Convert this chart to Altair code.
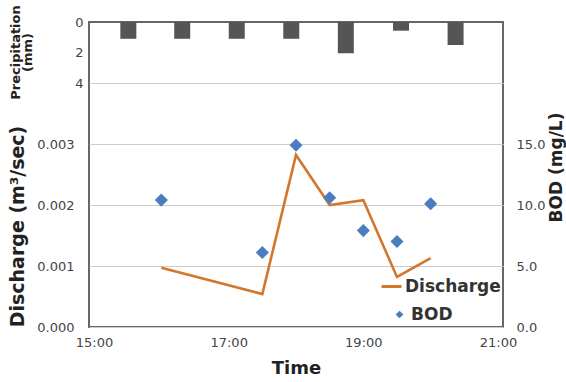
import altair as alt
import pandas as pd

# ---- data ----
times = ["16:00", "17:30", "18:00", "18:30", "19:00", "19:30", "20:00"]
discharge = [0.00097, 0.00054, 0.00282, 0.00200, 0.00208, 0.00082, 0.00113]
bod = [10.4, 6.1, 14.9, 10.6, 7.9, 7.0, 10.1]
precip_hours = [15.51, 16.31, 17.12, 17.93, 18.74, 19.56, 20.37]
precip_mm = [1.1, 1.1, 1.1, 1.1, 2.05, 0.57, 1.51]
x_ticks = [15, 17, 19, 21]
discharge_ticks = [0, 0.001, 0.002, 0.003, 0.004]
bod_ticks = [0, 5, 10, 15]
precip_ticks = [0, 2, 4]


def to_hours(t):
    h, m = t.split(":")
    return int(h) + int(m) / 60


main = pd.DataFrame({
    "hour": [to_hours(t) for t in times],
    "discharge": discharge,
    "bod": bod,
    "s1": ["Discharge"] * len(times),
    "s2": ["BOD"] * len(times),
})
rain = pd.DataFrame({"hour": precip_hours, "precip": precip_mm})

FONT = "DejaVu Sans"
LABEL = dict(labelFont=FONT, labelFontSize=13, labelColor="#444",
             titleFont=FONT, titleFontWeight="bold", titleColor="#222",
             ticks=False, tickSize=0, domain=False)

x_enc = alt.X(
    "hour:Q",
    scale=alt.Scale(domain=[15, 21], nice=False, zero=False),
    axis=alt.Axis(values=x_ticks, labelExpr="datum.value + ':00'", title="Time",
                  grid=False, labelPadding=9, labelFlush=False,
                  titleFontSize=18, titleY=41, titleBaseline="middle", **LABEL),
)

bars = alt.Chart(rain).mark_bar(size=16, color="#555555").encode(
    x=x_enc,
    y=alt.Y("precip:Q",
            scale=alt.Scale(domain=[0, 20], reverse=True, nice=False, zero=True),
            axis=alt.Axis(orient="left", values=precip_ticks, grid=False, labelPadding=6,
                          title=["Precipitation", "(mm)"], titleFontSize=13,
                          titleX=-74, titleY=30, titleAngle=-90, titleAlign="center",
                          titleBaseline="middle", titleLineHeight=12, **LABEL)),
)

line = alt.Chart(main).mark_line(strokeWidth=2.6).encode(
    x=x_enc,
    y=alt.Y("discharge:Q",
            scale=alt.Scale(domain=[0, 0.005], nice=False),
            axis=alt.Axis(orient="left", values=discharge_ticks,
                          labelExpr="datum.value > 0.0035 ? '' : format(datum.value, '.3f')",
                          grid=True, gridColor="#cccccc", gridWidth=1, labelPadding=15,
                          title="Discharge (m³/sec)", titleFontSize=19,
                          titleX=-72, titleY=204, titleAngle=-90, titleAlign="center",
                          titleBaseline="middle", **LABEL)),
    stroke=alt.Stroke("s1:N", scale=alt.Scale(domain=["Discharge"], range=["#D2772E"]),
                      legend=alt.Legend(title=None, orient="none", legendX=291, legendY=253,
                                        symbolType="stroke", symbolSize=400, symbolStrokeWidth=3,
                                        labelFont=FONT, labelFontSize=17, labelFontWeight="bold",
                                        labelColor="#333", labelOffset=2, padding=0)),
)

points = alt.Chart(main).mark_point(shape="diamond", filled=True, size=170, opacity=1).encode(
    x=x_enc,
    y=alt.Y("bod:Q",
            scale=alt.Scale(domain=[0, 25], nice=False),
            axis=alt.Axis(orient="right", values=bod_ticks, format=".1f", grid=False,
                          labelPadding=13, title="BOD (mg/L)", titleFontSize=17,
                          titleX=53, titleY=145, titleAngle=-90, titleAlign="center",
                          titleBaseline="middle", **LABEL)),
    fill=alt.Fill("s2:N", scale=alt.Scale(domain=["BOD"], range=["#4A7DBE"]),
                  legend=alt.Legend(title=None, orient="none", legendX=302, legendY=284,
                                    symbolType="diamond", symbolSize=60,
                                    labelFont=FONT, labelFontSize=17, labelFontWeight="bold",
                                    labelColor="#333", labelOffset=3, padding=0)),
)

chart = (
    alt.layer(bars, line, points)
    .resolve_scale(y="independent")
    .properties(width=414, height=305,
                autosize=alt.AutoSizeParams(type="none"),
                padding={"left": 89, "top": 22, "right": 63, "bottom": 55})
    .configure(background="white")
    .configure_view(stroke="#666666", strokeWidth=2)
)

chart.save("out.html", embed_options={"renderer": "svg", "actions": False})
